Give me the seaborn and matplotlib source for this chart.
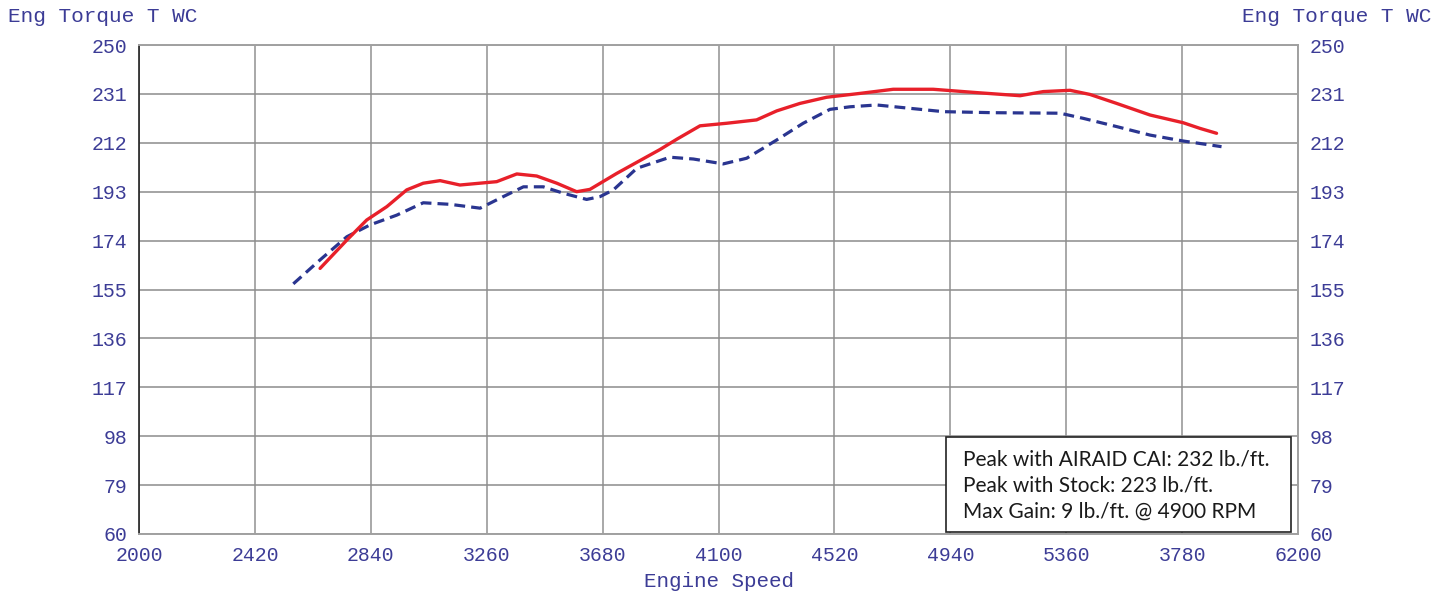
import numpy as np
import pandas as pd
import matplotlib.pyplot as plt
from matplotlib.patches import Rectangle
import seaborn as sns

# 1. Data (rpm, lb./ft.)
stock_rpm = [2559, 2656, 2753, 2837, 2934, 3030, 3127, 3236, 3320, 3393, 3465,
             3538, 3622, 3671, 3719, 3804, 3924, 4009, 4117, 4202, 4311, 4407,
             4504, 4577, 4673, 4794, 4915, 5096, 5338, 5422, 5543, 5664, 5784, 5923]
stock_tq = [157.2, 166.5, 175.5, 180.1, 183.9, 188.7, 188.1, 186.6, 191.1, 194.9, 194.9,
            192.4, 190.0, 191.1, 193.7, 202.1, 206.4, 205.7, 203.8, 206.0, 213.1, 219.6,
            225.0, 226.0, 226.7, 225.4, 224.1, 223.7, 223.5, 221.5, 218.3, 215.0, 212.7, 210.5]

airaid_rpm = [2656, 2753, 2825, 2898, 2970, 3030, 3091, 3163, 3296, 3369, 3441,
              3514, 3586, 3634, 3731, 3888, 3949, 4033, 4130, 4238, 4311, 4395,
              4492, 4613, 4733, 4878, 5036, 5193, 5277, 5374, 5446, 5543, 5664,
              5784, 5845, 5905]
airaid_tq = [163.2, 174.2, 182.0, 187.2, 193.7, 196.3, 197.3, 195.6, 196.9, 199.9, 199.1,
             196.3, 193.0, 193.9, 200.1, 209.4, 213.4, 218.6, 219.6, 220.9, 224.4, 227.3,
             229.7, 231.2, 232.8, 232.8, 231.5, 230.3, 231.9, 232.4, 230.8, 227.3, 222.8,
             219.8, 217.6, 215.7]

x_ticks = [2000, 2420, 2840, 3260, 3680, 4100, 4520, 4940, 5360, 5780, 6200]
x_tick_labels = ['2000', '2420', '2840', '3260', '3680', '4100', '4520', '4940',
                 '5360', '3780', '6200']
y_ticks = [60, 79, 98, 117, 136, 155, 174, 193, 212, 231, 250]

notes = ['Peak with AIRAID CAI: 232 lb./ft.',
         'Peak with Stock: 223 lb./ft.',
         'Max Gain: 9 lb./ft. @ 4900 RPM']

stock_df = pd.DataFrame({'rpm': stock_rpm, 'torque': stock_tq})
airaid_df = pd.DataFrame({'rpm': airaid_rpm, 'torque': airaid_tq})

# 2. Style
sns.set_style('white')
mono = 'Liberation Mono'
txt_col = '#3c3c96'

fig = plt.figure(figsize=(14.47, 5.93), dpi=100)
ax = fig.add_axes([0.0961, 0.0995, 0.8009, 0.8246])

sns.lineplot(data=stock_df, x='rpm', y='torque', ax=ax, color='#2a3590',
             linewidth=2.3, linestyle=(0, (3.4, 1.9)))
sns.lineplot(data=airaid_df, x='rpm', y='torque', ax=ax, color='#e8202a',
             linewidth=2.4)

ax.set_xlim(2000, 6200)
ax.set_ylim(60, 250)
ax.set_xticks(x_ticks)
ax.set_xticklabels(x_tick_labels)
ax.set_yticks(y_ticks)
ax.grid(True, axis='y', color='#8c8c8c', linewidth=1.1)
ax.grid(True, axis='x', color='#a8a8a8', linewidth=1.4)
ax.set_axisbelow(True)

for side in ['top', 'right', 'bottom']:
    ax.spines[side].set_color('#a0a0a0')
    ax.spines[side].set_linewidth(1.4)
ax.spines['left'].set_color('#222222')
ax.spines['left'].set_linewidth(1.2)

ax.tick_params(axis='both', length=0, labelsize=14.3, labelcolor=txt_col)
ax.tick_params(axis='x', pad=8.5)
ax.tick_params(axis='y', pad=8.5, labelright=True)
for lbl in ax.get_xticklabels() + ax.get_yticklabels():
    lbl.set_family(mono)
for lbl in ax.yaxis.get_ticklabels(which='major'):
    lbl.set_family(mono)

ax.set_xlabel('Engine Speed', family=mono, fontsize=15, color=txt_col, labelpad=5)
ax.set_ylabel('')

fig.text(0.0055, 0.973, 'Eng Torque T WC', family=mono, fontsize=15.2,
         color=txt_col, ha='left', va='center')
fig.text(0.989, 0.973, 'Eng Torque T WC', family=mono, fontsize=15.2,
         color=txt_col, ha='right', va='center')

# 3. Notes box
ax.add_patch(Rectangle((0.6963, 0.0041), 0.2977, 0.1943, transform=ax.transAxes,
                       facecolor='white', edgecolor='#222222', linewidth=1.2,
                       zorder=5))
for note, yb in zip(notes, [0.1411, 0.0859, 0.0327]):
    ax.text(0.711, yb, note, transform=ax.transAxes, family='Lato', fontsize=15,
            color='#1a1a1a', ha='left', va='baseline', zorder=6)

fig.savefig('out.png', dpi=100)
plt.close(fig)
